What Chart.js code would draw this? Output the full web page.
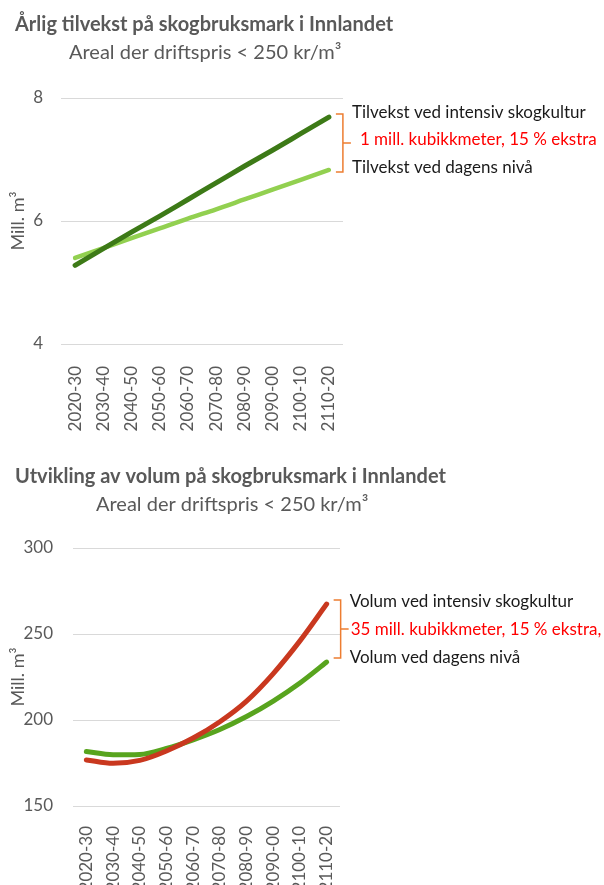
<!DOCTYPE html>
<html lang="no">
<head>
<meta charset="utf-8">
<title>Tilvekst og volum på skogbruksmark i Innlandet</title>
<script src="https://cdn.jsdelivr.net/npm/chart.js@4.4.1/dist/chart.umd.min.js"></script>
<style>
    html, body { margin: 0; padding: 0; background: #fff; }
    body { width: 604px; height: 885px; position: relative; overflow: hidden; }
    .chart-box { position: absolute; left: 0; width: 604px; }
    #boxTilvekst { top: 0; height: 440px; }
    #boxVolum { top: 440px; height: 445px; }
</style>
</head>
<body>
<div class="chart-box" id="boxTilvekst"><canvas id="tilvekstChart"></canvas></div>
<div class="chart-box" id="boxVolum"><canvas id="volumChart"></canvas></div>

<script>
// Tiårsperioder (x-akse)
const periods = ['2020-30', '2030-40', '2040-50', '2050-60', '2060-70',
                 '2070-80', '2080-90', '2090-00', '2100-10', '2110-20'];

// Årlig tilvekst, mill. m3
const tilvekstIntensiv = [5.28, 5.55, 5.82, 6.08, 6.35, 6.62, 6.89, 7.15, 7.42, 7.69];
const tilvekstDagens   = [5.40, 5.56, 5.72, 5.88, 6.04, 6.19, 6.35, 6.51, 6.67, 6.83];
const tilvekstTicks = [4, 6, 8];

// Stående volum, mill. m3
const volumIntensiv = [176.8, 174.8, 176.5, 182.0, 189.5, 199.0, 211.0, 227.0, 246.0, 267.4];
const volumDagens   = [181.7, 179.8, 180.0, 183.5, 188.5, 194.5, 202.0, 211.0, 221.5, 233.7];
const volumTicks = [150, 200, 250, 300];

const GREY_TEXT = '#595959';
const GRID = '#d9d9d9';
const FONT = 'Lato, "Open Sans", sans-serif';

Chart.defaults.font.family = FONT;
Chart.defaults.color = GREY_TEXT;

// Tittel + undertittel tegnes fritt plassert (Excel-stil)
const headingPlugin = {
    id: 'heading',
    afterDraw(chart, args, opts) {
        const ctx = chart.ctx;
        ctx.save();
        ctx.textBaseline = 'middle';
        ctx.textAlign = 'left';
        ctx.fillStyle = GREY_TEXT;
        ctx.font = 'bold 20px ' + FONT;
        ctx.fillText(opts.title, opts.titleX, opts.titleY);
        ctx.font = '20px ' + FONT;
        ctx.fillText(opts.subtitle, opts.subX, opts.subY);
        ctx.restore();
    }
};

// Klamme mellom endepunktene + forklaringstekster
const bracketPlugin = {
    id: 'bracket',
    afterDatasetsDraw(chart, args, opts) {
        const { ctx, scales: { x, y } } = chart;
        const last = chart.data.labels.length - 1;
        const xEnd = x.getPixelForValue(last);
        const yHi = y.getPixelForValue(chart.data.datasets[0].data[last]) + opts.hiOff;
        const yLo = y.getPixelForValue(chart.data.datasets[1].data[last]) + opts.loOff;
        const yMid = (yHi + yLo) / 2;
        const xa = xEnd + 7;
        const xb = xEnd + 14;

        ctx.save();
        ctx.strokeStyle = '#ed7d31';
        ctx.lineWidth = 1.5;
        ctx.beginPath();
        ctx.moveTo(xa, yHi);
        ctx.lineTo(xb, yHi);
        ctx.lineTo(xb, yLo);
        ctx.lineTo(xa, yLo);
        ctx.moveTo(xb, yMid);
        ctx.lineTo(xb + 8, yMid);
        ctx.stroke();

        ctx.font = '17px ' + FONT;
        ctx.textBaseline = 'middle';
        ctx.textAlign = 'left';
        ctx.fillStyle = '#1a1a1a';
        ctx.fillText(opts.upper, xb + 9, yHi + opts.textShift + 1);
        ctx.fillText(opts.lower, xb + 9, yLo + opts.textShift - 1);
        ctx.fillStyle = '#ff0000';
        ctx.fillText(opts.diff, xb + opts.diffGap, yMid + opts.textShift);
        ctx.restore();
    }
};

function buildChart(canvasId, cfg) {
    const ctx = document.getElementById(canvasId).getContext('2d');
    return new Chart(ctx, {
        type: 'line',
        data: {
            labels: periods,
            datasets: [
                {
                    label: cfg.upperLabel,
                    data: cfg.upper,
                    borderColor: cfg.upperColor,
                    borderWidth: 5,
                    borderCapStyle: 'round',
                    pointRadius: 0,
                    cubicInterpolationMode: 'monotone',
                    tension: 0.4
                },
                {
                    label: cfg.lowerLabel,
                    data: cfg.lower,
                    borderColor: cfg.lowerColor,
                    borderWidth: cfg.lowerWidth,
                    borderCapStyle: 'round',
                    pointRadius: 0,
                    cubicInterpolationMode: 'monotone',
                    tension: 0.4
                }
            ]
        },
        options: {
            responsive: true,
            maintainAspectRatio: false,
            animation: false,
            layout: { padding: cfg.padding },
            scales: {
                x: {
                    offset: true,
                    grid: { display: false },
                    border: { display: false },
                    afterFit(scale) { scale.height = cfg.xHeight; },
                    ticks: {
                        autoSkip: false,
                        minRotation: 90,
                        maxRotation: 90,
                        padding: cfg.xPad,
                        color: GREY_TEXT,
                        font: { size: 17 }
                    }
                },
                y: {
                    min: cfg.ticks[0],
                    max: cfg.ticks[cfg.ticks.length - 1],
                    afterBuildTicks(scale) {
                        scale.ticks = cfg.ticks.map(v => ({ value: v }));
                    },
                    afterFit(scale) { scale.width = cfg.yWidth; },
                    grid: { color: GRID, lineWidth: 1, drawTicks: false },
                    border: { display: false },
                    ticks: {
                        padding: cfg.yPad,
                        color: GREY_TEXT,
                        font: { size: 17 }
                    },
                    title: {
                        display: true,
                        text: 'Mill. m³',
                        color: GREY_TEXT,
                        font: { size: 18 },
                        padding: { top: 7, bottom: 0 }
                    }
                }
            },
            plugins: {
                legend: { display: false },
                tooltip: { enabled: false },
                heading: cfg.heading,
                bracket: cfg.bracket
            }
        },
        plugins: [headingPlugin, bracketPlugin]
    });
}

buildChart('tilvekstChart', {
    upper: tilvekstIntensiv,
    lower: tilvekstDagens,
    upperLabel: 'Tilvekst ved intensiv skogkultur',
    lowerLabel: 'Tilvekst ved dagens nivå',
    upperColor: '#3d7a17',
    lowerColor: '#92d050',
    lowerWidth: 4.5,
    ticks: tilvekstTicks,
    padding: { top: 98, right: 261, bottom: 0, left: 0 },
    yWidth: 61,
    yPad: 18,
    xHeight: 96,
    xPad: 14,
    heading: {
        title: 'Årlig tilvekst på skogbruksmark i Innlandet',
        titleX: 15, titleY: 25,
        subtitle: 'Areal der driftspris < 250 kr/m³',
        subX: 69, subY: 53
    },
    bracket: {
        upper: 'Tilvekst ved intensiv skogkultur',
        diff: '1 mill. kubikkmeter, 15 % ekstra',
        lower: 'Tilvekst ved dagens nivå',
        diffGap: 17,
        hiOff: -3,
        loOff: 2,
        textShift: -3
    }
});

buildChart('volumChart', {
    upper: volumIntensiv,
    lower: volumDagens,
    upperLabel: 'Volum ved intensiv skogkultur',
    lowerLabel: 'Volum ved dagens nivå',
    upperColor: '#c9381f',
    lowerColor: '#58a41e',
    lowerWidth: 5,
    ticks: volumTicks,
    padding: { top: 108, right: 264, bottom: 0, left: 0 },
    yWidth: 73,
    yPad: 20,
    xHeight: 79,
    xPad: 12,
    heading: {
        title: 'Utvikling av volum på skogbruksmark i Innlandet',
        titleX: 15, titleY: 37,
        subtitle: 'Areal der driftspris < 250 kr/m³',
        subX: 96, subY: 65
    },
    bracket: {
        upper: 'Volum ved intensiv skogkultur',
        diff: '35 mill. kubikkmeter, 15 % ekstra,',
        lower: 'Volum ved dagens nivå',
        diffGap: 10,
        hiOff: -4,
        loOff: -4,
        textShift: 0
    }
});
</script>
</body>
</html>
